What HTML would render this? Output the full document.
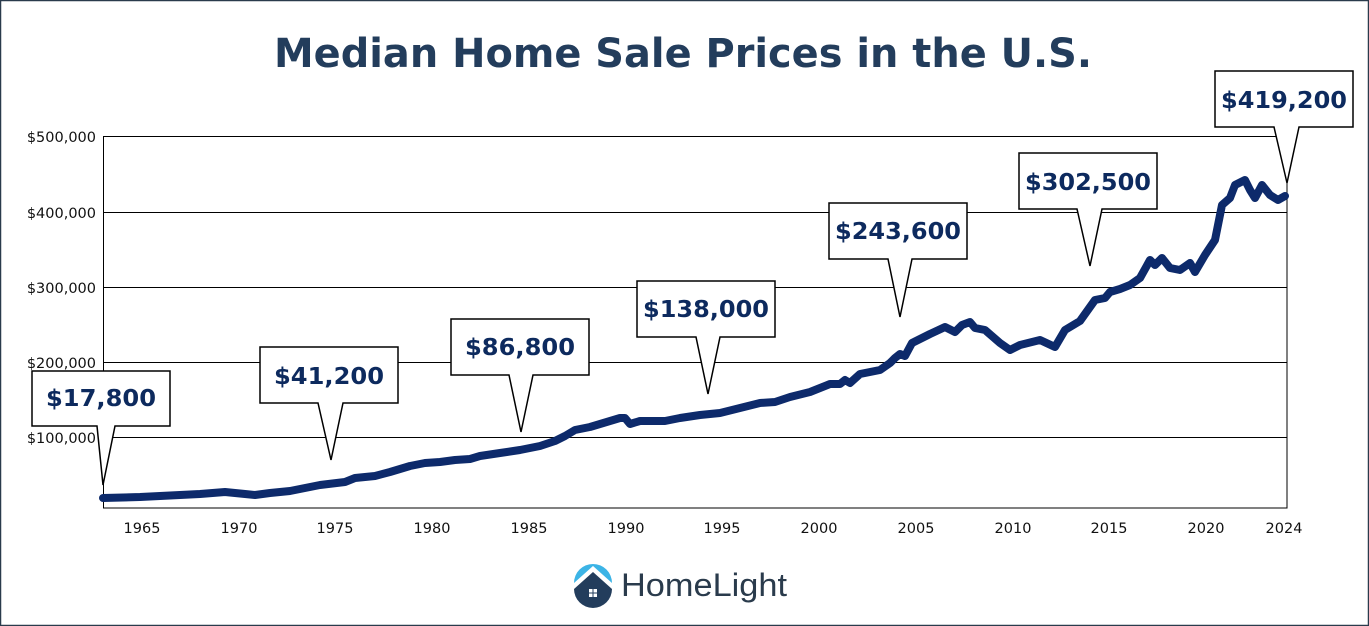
<!DOCTYPE html>
<html><head><style>html,body{margin:0;padding:0;background:#fff}svg{display:block}</style></head>
<body>
<svg width="1369" height="626" viewBox="0 0 1369 626" xmlns="http://www.w3.org/2000/svg" font-family="DejaVu Sans, Liberation Sans, sans-serif">
<rect x="0.5" y="0.5" width="1368" height="625" fill="#fff" stroke="#2a3b4c" stroke-width="1.5"/>
<text x="683" y="67" text-anchor="middle" font-size="40" font-weight="bold" fill="#233d5c" textLength="818" lengthAdjust="spacingAndGlyphs">Median Home Sale Prices in the U.S.</text>
<g stroke="#000" stroke-width="1" fill="none">
<line x1="103" y1="136.5" x2="1287" y2="136.5"/>
<line x1="103" y1="212.5" x2="1287" y2="212.5"/>
<line x1="103" y1="287.5" x2="1287" y2="287.5"/>
<line x1="103" y1="362.5" x2="1287" y2="362.5"/>
<line x1="103" y1="437.5" x2="1287" y2="437.5"/>
<rect x="103.5" y="136.5" width="1183.5" height="371.5"/>
</g>
<g font-size="14.5" fill="#111" text-anchor="end">
<text x="96" y="142">$500,000</text><text x="96" y="218">$400,000</text><text x="96" y="293">$300,000</text><text x="96" y="368">$200,000</text><text x="96" y="443">$100,000</text>
</g>
<g font-size="14.5" fill="#111" text-anchor="middle">
<text x="142" y="533">1965</text><text x="239" y="533">1970</text><text x="335" y="533">1975</text><text x="432" y="533">1980</text><text x="529" y="533">1985</text><text x="626" y="533">1990</text><text x="722" y="533">1995</text><text x="819" y="533">2000</text><text x="916" y="533">2005</text><text x="1013" y="533">2010</text><text x="1109" y="533">2015</text><text x="1206" y="533">2020</text><text x="1284" y="533">2024</text>
</g>
<polyline fill="none" stroke="#0d2a6b" stroke-width="8" stroke-linejoin="round" stroke-linecap="round" points="103,498 140,497 160,496 200,494 225,492 245,494 255,495 270,493 290,491 305,488 320,485 345,482 355,478 375,476 390,472 410,466 425,463 440,462 455,460 470,459 480,456 500,453 520,450 540,446 555,441 565,436 575,430 590,427 610,421 620,418 625,418 630,424 640,421 665,421 680,418 700,415 720,413 740,408 760,403 775,402 790,397 810,392 830,384 840,384 845,380 850,383 860,374 870,372 880,370 890,363 895,358 900,354 905,356 912,343 930,334 945,327 955,332 962,325 970,322 975,328 985,330 1000,343 1010,350 1020,345 1040,340 1055,347 1065,330 1080,321 1095,300 1105,298 1110,292 1120,289 1130,285 1140,278 1150,260 1155,265 1162,258 1170,268 1180,270 1190,263 1195,272 1205,255 1215,240 1222,205 1230,198 1235,185 1245,180 1250,190 1255,198 1262,185 1270,195 1278,200 1285,196"/>
<g stroke="#000" stroke-width="1.5" fill="#fff">
<path d="M32,371 H170 V426 H115 L103,485 L97,426 H32 Z"/>
<path d="M260,347 H398 V403 H343 L331,460 L318,403 H260 Z"/>
<path d="M451,319 H589 V375 H533 L521,432 L509,375 H451 Z"/>
<path d="M637,281 H775 V337 H720 L708,394 L696,337 H637 Z"/>
<path d="M829,203 H967 V259 H912 L900,317 L888,259 H829 Z"/>
<path d="M1019,153 H1157 V209 H1102 L1090,266 L1077,209 H1019 Z"/>
<path d="M1215,71 H1353 V127 H1299 L1287,183 L1274,127 H1215 Z"/>
</g>
<g font-size="23" font-weight="bold" fill="#0d2a5e" text-anchor="middle">
<text x="101" y="406" textLength="110" lengthAdjust="spacingAndGlyphs">$17,800</text>
<text x="329" y="384" textLength="110" lengthAdjust="spacingAndGlyphs">$41,200</text>
<text x="520" y="355" textLength="110" lengthAdjust="spacingAndGlyphs">$86,800</text>
<text x="706" y="317" textLength="126" lengthAdjust="spacingAndGlyphs">$138,000</text>
<text x="898" y="239" textLength="126" lengthAdjust="spacingAndGlyphs">$243,600</text>
<text x="1088" y="190" textLength="126" lengthAdjust="spacingAndGlyphs">$302,500</text>
<text x="1284" y="108" textLength="126" lengthAdjust="spacingAndGlyphs">$419,200</text>
</g>
<g>
<path d="M574,583 A19,19 0 1 1 612,583 L593,566 Z" fill="#3cb4e6"/>
<path d="M593,572 L612,589 A19,19 0 0 1 574,589 Z" fill="#233d5c"/>
<rect x="589" y="589" width="8" height="8" fill="#fff"/>
<line x1="593" y1="589" x2="593" y2="597" stroke="#233d5c" stroke-width="1"/>
<line x1="589" y1="593" x2="597" y2="593" stroke="#233d5c" stroke-width="1"/>
<text x="621" y="596" font-family="Liberation Sans, sans-serif" font-size="32" fill="#2a3b4c" textLength="166" lengthAdjust="spacingAndGlyphs">HomeLight</text>
</g>
</svg>
</body></html>
